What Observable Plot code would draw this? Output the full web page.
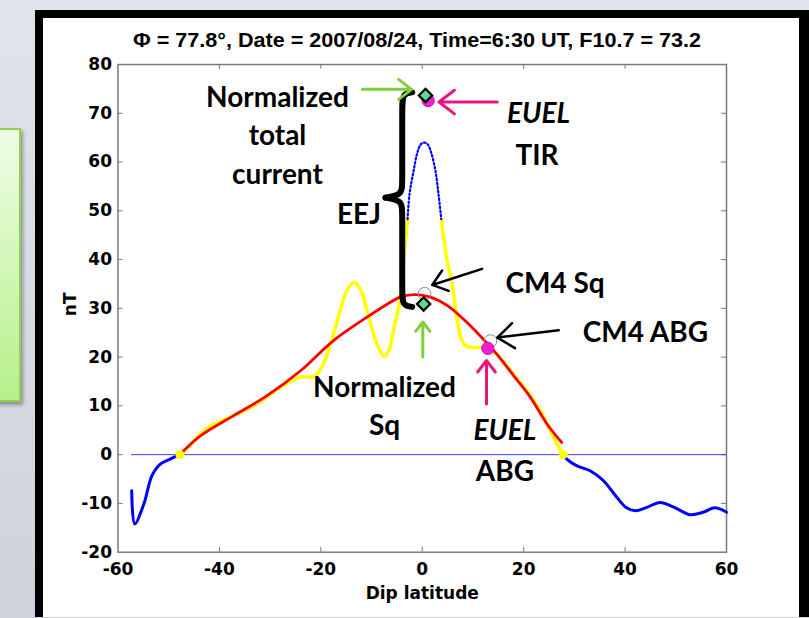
<!DOCTYPE html>
<html><head><meta charset="utf-8">
<script src="https://cdn.jsdelivr.net/npm/d3@7"></script>
<script src="https://cdn.jsdelivr.net/npm/@observablehq/plot@0.6"></script>
<style>
html,body{margin:0;padding:0;}
body{width:809px;height:618px;overflow:hidden;position:relative;background:linear-gradient(to bottom,#e1e4eb,#cdd2dc);}
#greenbox{position:absolute;left:-10px;top:128px;width:27px;height:270px;border:2px solid #92d050;background:linear-gradient(to bottom,#effde6,#b6f08a);box-shadow:2px 3px 4px rgba(0,0,0,0.35);}
#panel{position:absolute;left:35px;top:10px;width:756px;height:599px;border-left:8px solid #000;border-top:8px solid #000;border-right:10px solid #000;background:#fff;overflow:hidden;}
#title{position:absolute;left:0;top:0;}
#chart{position:absolute;left:0;top:30px;}
</style></head>
<body>
<div id="greenbox"></div>
<div id="panel">
  <svg id="title" width="756" height="38"><text x="374" y="29" text-anchor="middle" textLength="568" lengthAdjust="spacingAndGlyphs" font-family="Liberation Sans, Arial, sans-serif" font-weight="bold" font-size="19.5">Φ = 77.8°, Date = 2007/08/24, Time=6:30 UT, F10.7 = 73.2</text></svg>
  <div id="chart"></div>
</div>
<script>
// ---- data ----
const xTicks = [-60, -40, -20, 0, 20, 40, 60];
const yTicks = [-20, -10, 0, 10, 20, 30, 40, 50, 60, 70, 80];

// normalized total current (blue / yellow)
const totalLat = [-57.3,-56.7,-54.9,-53.3,-51.6,-49.7,-47.8,-45.5,-43.5,-41.8,-39.5,-37.2,-32.6,-28,-24,-21.4,-19.8,-18.1,-16.2,-14.8,-13.4,-12.0,-10.9,-8.9,-7.5,-6.5,-5.7,-4.3,-3.7,-2.9,-2.5,-1.7,-1.0,-0.3,0.4,1.1,1.8,2.6,3.2,3.75,4.9,5.9,6.8,7.8,8.8,10.1,12.8,14.7,18,20.6,23.3,25.9,27.8,28.5,30.5,33.1,35.7,38.4,40.3,42,44.3,46.9,49.5,52.8,55.4,57.7,60];
const totalNT = [-7.4,-14.2,-10.1,-4.3,-1.9,-0.9,0,2.3,4.5,5.9,7.0,8.0,10.4,13.8,15.9,16.0,18.0,22.7,29.5,33.8,35.3,33.5,29.5,22.7,20.1,21.5,25.4,32.3,39.8,48.3,53.5,58.2,61.8,63.6,64,63.6,61.8,58.2,53.5,48.3,39.8,35.0,28.2,23.4,22.2,22.0,22.0,20.6,16.5,13.1,9.0,3.5,0,-0.9,-2.3,-3.3,-5.3,-8.8,-10.9,-11.5,-10.8,-9.8,-10.7,-12.3,-11.8,-10.9,-11.8];

// CM4 Sq model (red)
const cm4Lat = [-47.8,-43.7,-37.2,-30.6,-24,-17.5,-10.9,-7,-4.3,-1.5,1.6,4.9,8.1,11.4,14.7,18,21.3,24.6,27.5];
const cm4NT = [0,3.9,8.0,12.1,17.2,23.4,28.2,30.8,32.3,32.8,32.3,30.6,27.8,24.4,20.6,16.2,11.8,6.3,2.5];

// fit window end points (yellow dots)
const edgeLat = [-47.8, 27.8];
const edgeNT = [0, 0];

// markers
const diamondLat = [0.64, 0.27];
const diamondNT = [73.65, 30.9];
const euelLat = [1.17, 12.93];
const euelNT = [72.6, 21.8];
const cm4PtLat = [0.46, 13.46];
const cm4PtNT = [33.0, 23.3];

// annotations (data coordinates)
const labelText = ["Normalized\ntotal\ncurrent", "EEJ", "TIR", "CM4 Sq", "CM4 ABG", "Normalized\nSq", "ABG"];
const labelLat = [-28.55, -12.47, 22.63, 26.2, 44.0, -7.44, 16.3];
const labelNT = [65.9, 49.7, 61.8, 35.7, 25.5, 10.5, -2.83];
const italicText = ["EUEL", "EUEL"];
const italicLat = [22.93, 16.3];
const italicNT = [69.8, 4.76];

const greenArrows = [{x1: -11.8, y1: 74.9, x2: -2.1, y2: 74.9}, {x1: 0.11, y1: 20.0, x2: 0.11, y2: 27.2}];
const pinkArrows = [{x1: 14.8, y1: 72.3, x2: 3.3, y2: 72.3}, {x1: 12.67, y1: 10.4, x2: 12.67, y2: 19.3}];
const blackArrows = [{x1: 11.8, y1: 38.1, x2: 1.96, y2: 34.8}, {x1: 26.9, y1: 25.5, x2: 14.8, y2: 24.0}];

// EEJ brace parameters
const braceStem = -3.95, braceCusp = -7.25, braceHook = -1.98;
const braceTop = 74.0, braceMid = 52.7, braceBot = 30.6;

// ---- build ----
const total = totalLat.map((x, i) => ({x, y: totalNT[i]}));
const cm4 = cm4Lat.map((x, i) => ({x, y: cm4NT[i]}));
const edges = edgeLat.map((x, i) => ({x, y: edgeNT[i]}));
const diamonds = diamondLat.map((x, i) => ({x, y: diamondNT[i]}));
const euel = euelLat.map((x, i) => ({x, y: euelNT[i]}));
const cm4Pts = cm4PtLat.map((x, i) => ({x, y: cm4PtNT[i]}));
const labels = labelText.map((t, i) => ({t, x: labelLat[i], y: labelNT[i]}));
const italics = italicText.map((t, i) => ({t, x: italicLat[i], y: italicNT[i]}));
const brace = [
  [braceHook, braceTop + 0.3], [braceStem, braceTop], [braceStem, braceTop - 3], [braceStem, braceMid + 3], [braceStem, braceMid + 0.6], [braceCusp, braceMid]
].map(([x, y]) => ({x, y, z: "a"})).concat([
  [braceCusp, braceMid], [braceStem, braceMid - 0.6], [braceStem, braceMid - 3], [braceStem, braceBot + 3], [braceStem, braceBot], [braceHook, braceBot - 0.3]
].map(([x, y]) => ({x, y, z: "b"})));

const fitLo = edgeLat[0], fitHi = edgeLat[1], peakCut = 48.3;
const xDom = [xTicks[0], xTicks[xTicks.length - 1]];
const yDom = [yTicks[0], yTicks[yTicks.length - 1]];
const tickLenY = 1.0, tickLenX = 1.0;
const innerX = xTicks.slice(1, -1), innerY = yTicks.slice(1, -1);

const chart = Plot.plot({
  width: 756, height: 569,
  marginLeft: 74.5, marginRight: 73, marginTop: 16, marginBottom: 65.3,
  x: {domain: xDom, label: null},
  y: {domain: yDom, label: null},
  style: {background: "transparent", fontFamily: "DejaVu Sans", fontWeight: "bold", fontSize: "17px", color: "#000"},
  marks: [
    Plot.frame({stroke: "#7a7a7a", strokeWidth: 1.5}),
    Plot.ruleX(innerX, {x: d => d, y1: () => yDom[0], y2: () => yDom[0] + tickLenY, stroke: "#7a7a7a"}),
    Plot.ruleX(innerX, {x: d => d, y1: () => yDom[1], y2: () => yDom[1] - tickLenY, stroke: "#7a7a7a"}),
    Plot.ruleY(innerY, {y: d => d, x1: () => xDom[0], x2: () => xDom[0] + tickLenX, stroke: "#7a7a7a"}),
    Plot.ruleY(innerY, {y: d => d, x1: () => xDom[1], x2: () => xDom[1] - tickLenX, stroke: "#7a7a7a"}),
    Plot.axisX(xTicks, {tickSize: 0, tickPadding: 11, tickFormat: d => String(d), fontSize: 17, fontWeight: "bold", fill: "#000"}),
    Plot.axisY(yTicks, {tickSize: 0, tickPadding: 6, tickFormat: d => String(d), fontSize: 17, fontWeight: "bold", fill: "#000"}),
    Plot.text(["Dip latitude"], {frameAnchor: "bottom", lineAnchor: "middle", dy: 41, fontSize: 17, fontWeight: "bold", fill: "#000"}),
    Plot.text(["nT"], {frameAnchor: "left", textAnchor: "middle", lineAnchor: "middle", dx: -47.5, dy: -4, rotate: -90, fontSize: 17, fontWeight: "bold", fill: "#000"}),
    // zero line
    Plot.ruleY([0], {x1: () => totalLat[0], x2: () => xDom[1], stroke: "#3a3aff", strokeWidth: 1}),
    // total current outside the fit window (solid blue)
    Plot.line(total, {filter: d => d.x <= fitLo || d.x >= fitHi, x: "x", y: "y", z: d => d.x < 0 ? "L" : "R", stroke: "#0000ff", strokeWidth: 3, curve: "catmull-rom"}),
    // total current inside the window (yellow)
    Plot.line(total, {filter: d => d.x >= fitLo && d.x <= fitHi && d.y <= peakCut, x: "x", y: "y", z: d => d.x < 0.4 ? "L" : "R", stroke: "#ffff00", strokeWidth: 3.5, curve: "catmull-rom"}),
    // EEJ peak (blue dotted)
    Plot.line(total, {filter: d => d.y >= peakCut, x: "x", y: "y", stroke: "#0000ff", strokeWidth: 2.2, strokeDasharray: "1.6 2.4", curve: "catmull-rom"}),
    // CM4 Sq (red)
    Plot.line(cm4, {x: "x", y: "y", stroke: "#ff0000", strokeWidth: 2.8, curve: "catmull-rom"}),
    Plot.dot(edges, {x: "x", y: "y", r: 4.5, fill: "#ffff00"}),
    // markers
    Plot.dot(cm4Pts, {x: "x", y: "y", r: 6.3, stroke: "#8a8a8a", strokeWidth: 1, fill: "none"}),
    Plot.dot(euel, {x: "x", y: "y", r: 6.3, fill: "#ee1fd0", stroke: "#b0009a", strokeWidth: 0.6}),
    Plot.dot(diamonds, {x: "x", y: "y", r: 6, symbol: "diamond2", fill: "#5fd88f", stroke: "#000", strokeWidth: 2.2}),
    // EEJ brace
    Plot.line(brace, {x: "x", y: "y", z: "z", stroke: "#000", strokeWidth: 6, curve: "basis", strokeLinecap: "round"}),
    // arrows
    Plot.arrow(greenArrows, {x1: "x1", y1: "y1", x2: "x2", y2: "y2", stroke: "#80d03c", strokeWidth: 3, headLength: 16, headAngle: 75}),
    Plot.arrow(pinkArrows, {x1: "x1", y1: "y1", x2: "x2", y2: "y2", stroke: "#e8177c", strokeWidth: 3, headLength: 16, headAngle: 75}),
    Plot.arrow(blackArrows, {x1: "x1", y1: "y1", x2: "x2", y2: "y2", stroke: "#000", strokeWidth: 2.5, headLength: 18, headAngle: 75}),
    // annotation text
    Plot.text(labels, {x: "x", y: "y", text: "t", fontFamily: "Lato", fontWeight: "bold", fontSize: 28, lineHeight: 1.36, fill: "#000"}),
    Plot.text(italics, {x: "x", y: "y", text: "t", fontFamily: "Lato", fontWeight: "bold", fontStyle: "italic", fontSize: 28, fill: "#000"})
  ]
});
document.getElementById("chart").appendChild(chart);
</script>
</body></html>
